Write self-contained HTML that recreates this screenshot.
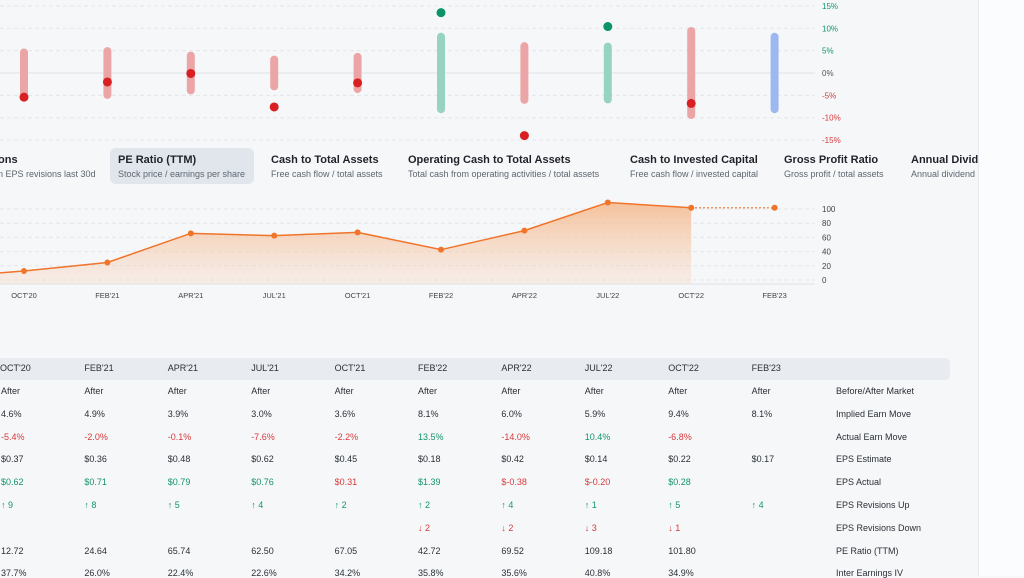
<!DOCTYPE html>
<html><head><meta charset="utf-8">
<style>
body{margin:0;width:1024px;height:576px;overflow:hidden;background:#f5f7f9;font-family:"Liberation Sans",sans-serif;position:relative}
.side{position:absolute;left:978px;top:0;width:46px;height:576px;background:#fbfcfd;border-left:1px solid #e6e9ed}
.card{position:absolute;top:148px;height:36px;padding:0 8px;border-radius:6px}
.card .t{font-size:11px;font-weight:bold;color:#1f2329;margin-top:6px;white-space:nowrap}
.card .s{font-size:9px;color:#5d6670;margin-top:3px;white-space:nowrap}
.hdr{position:absolute;left:0;top:358px;width:950px;height:22px;background:#e8ebf0;border-radius:0 5px 5px 0}
.cell{position:absolute;font-size:9px;color:#2b3036;white-space:nowrap}
.g{color:#13946a}.r{color:#d8393b}
</style></head><body>
<div class="side"></div>
<svg width="1024" height="576" style="position:absolute;left:0;top:0" id="svg"></svg>
<div class="card" style="left:-10px"><div class="t">ons</div><div class="s">n EPS revisions last 30d</div></div>
<div class="card" style="left:110px;background:#e1e6ed;width:128px"><div class="t">PE Ratio (TTM)</div><div class="s">Stock price / earnings per share</div></div>
<div class="card" style="left:263px"><div class="t">Cash to Total Assets</div><div class="s">Free cash flow / total assets</div></div>
<div class="card" style="left:400px"><div class="t">Operating Cash to Total Assets</div><div class="s">Total cash from operating activities / total assets</div></div>
<div class="card" style="left:622px"><div class="t">Cash to Invested Capital</div><div class="s">Free cash flow / invested capital</div></div>
<div class="card" style="left:776px"><div class="t">Gross Profit Ratio</div><div class="s">Gross profit / total assets</div></div>
<div class="card" style="left:903px;width:67px;overflow:hidden;padding-right:0"><div class="t">Annual Dividend</div><div class="s">Annual dividend</div></div>
<div class="hdr"></div>
<div id="table"></div>
<script>
const cats=["OCT'20","FEB'21","APR'21","JUL'21","OCT'21","FEB'22","APR'22","JUL'22","OCT'22","FEB'23"];
const implied=[4.6,4.9,3.9,3.0,3.6,8.1,6.0,5.9,9.4,8.1];
const actual=[-5.4,-2.0,-0.1,-7.6,-2.2,13.5,-14.0,10.4,-6.8,null];
const pe=[12.72,24.64,65.74,62.50,67.05,42.72,69.52,109.18,101.80,101.8];
const peStart=10;
const pctTicks=[15,10,5,0,-5,-10,-15];
const peTicks=[100,80,60,40,20,0];
const NS="http://www.w3.org/2000/svg";
const svg=document.getElementById('svg');
function mk(t,a,p){const e=document.createElementNS(NS,t);for(const k in a)e.setAttribute(k,a[k]);(p||svg).appendChild(e);return e;}
const xs=i=>24+i*83.4;
const yp=v=>73-v*4.47;
const ye=v=>280-v*0.71;
// pct grid
pctTicks.forEach(t=>{
 const l=mk('line',{x1:0,x2:815,y1:yp(t),y2:yp(t),stroke:t===0?'#dfe3e8':'#e3e6ea','stroke-dasharray':t===0?'':'4 3','stroke-width':1});
 
 const tx=mk('text',{x:822,y:yp(t)+3,'font-size':8,fill:t>0?'#13946a':t<0?'#d8393b':'#555'});
 tx.textContent=t+'%';
 
});
cats.forEach((c,i)=>{
 const a=actual[i];
 const col=a===null?'#9db8f0':a>0?'#97d3be':'#eca5a6';
 const b=mk('line',{x1:xs(i),x2:xs(i),y1:yp(implied[i]),y2:yp(-implied[i]),stroke:col,'stroke-width':8,'stroke-linecap':'round'});
 
 if(a!==null){
  const d=mk('circle',{cx:xs(i),cy:yp(a),r:4.5,fill:a>0?'#0c9466':'#d81f22'});
  
 }
});
// pe chart
const defs=mk('defs',{});
const lg=mk('linearGradient',{id:'gr',x1:0,x2:0,y1:0,y2:1},defs);
mk('stop',{offset:0,'stop-color':'#f5b88a','stop-opacity':0.85},lg);
mk('stop',{offset:1,'stop-color':'#f7d9c6','stop-opacity':0.35},lg);
peTicks.forEach(t=>{
 const l=mk('line',{x1:0,x2:815,y1:ye(t),y2:ye(t),stroke:'#e3e6ea','stroke-dasharray':'4 3'});
 
 const tx=mk('text',{x:822,y:ye(t)+3,'font-size':8,fill:'#444'});tx.textContent=t;
 
});
const ax=mk('line',{x1:0,x2:815,y1:284,y2:284,stroke:'#dfe3e8'});

let pts=[[0,ye(peStart)]];for(let i=0;i<9;i++)pts.push([xs(i),ye(pe[i])]);
const area=mk('path',{d:'M'+pts.map(p=>p.join(',')).join(' L')+` L${xs(8)},284 L0,284 Z`,fill:'url(#gr)'});

const ln=mk('polyline',{points:pts.map(p=>p.join(',')).join(' '),fill:'none',stroke:'#f0742a','stroke-width':1.5});

const fl=mk('line',{x1:xs(8),y1:ye(pe[8]),x2:xs(9),y2:ye(pe[9]),stroke:'#f0742a','stroke-width':1.5,'stroke-dasharray':'1.5 2.5'});

cats.forEach((c,i)=>{
 const d=mk('circle',{cx:xs(i),cy:ye(pe[i]),r:3,fill:'#f0742a'});
 
 const t=mk('text',{x:xs(i),y:298,'font-size':7.5,fill:'#444','text-anchor':'middle'});t.textContent=c;
 
});
// table
const rows=[
 ["Before/After Market",cats.map(()=>["After",""])],
 ["Implied Earn Move",implied.map(v=>[v.toFixed(1)+"%",""])],
 ["Actual Earn Move",actual.map(v=>v===null?["",""]:[v.toFixed(1)+"%",v>0?"g":"r"])],
 ["EPS Estimate",[0.37,0.36,0.48,0.62,0.45,0.18,0.42,0.14,0.22,0.17].map(v=>["$"+v.toFixed(2),""])],
 ["EPS Actual",[["$0.62","g"],["$0.71","g"],["$0.79","g"],["$0.76","g"],["$0.31","r"],["$1.39","g"],["$-0.38","r"],["$-0.20","r"],["$0.28","g"],["",""]]],
 ["EPS Revisions Up",[9,8,5,4,2,2,4,1,5,4].map(v=>["↑ "+v,"g"])],
 ["EPS Revisions Down",[null,null,null,null,null,2,2,3,1,null].map(v=>v?["↓ "+v,"r"]:["",""])],
 ["PE Ratio (TTM)",["12.72","24.64","65.74","62.50","67.05","42.72","69.52","109.18","101.80",""].map(v=>[v,""])],
 ["Inter Earnings IV",["37.7%","26.0%","22.4%","22.6%","34.2%","35.8%","35.6%","40.8%","34.9%",""].map(v=>[v,""])]
];
const tb=document.getElementById('table');
function cell(txt,x,y,cls,name){const d=document.createElement('div');d.className='cell '+cls;d.style.left=x+'px';d.style.top=y+'px';d.textContent=txt;
 
 
 tb.appendChild(d);}
cats.forEach((c,i)=>cell(c,xs(i)-24+(i==0?0:1),363,'','table-col-header'));
rows.forEach((r,ri)=>{
 const y=386+ri*22.8;
 r[1].forEach((v,i)=>{if(v[0])cell(v[0],xs(i)-24+(i==0?1:1),y,v[1],'table-cell');});
 cell(r[0],836,y,'','table-row-label');
});
</script>
</body></html>
